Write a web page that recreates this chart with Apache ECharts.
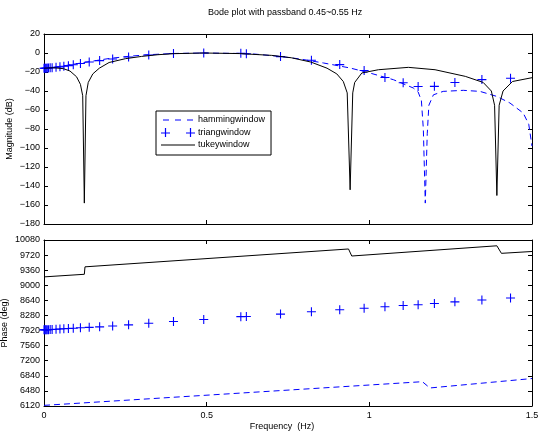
<!DOCTYPE html>
<html>
<head>
<meta charset="utf-8">
<script src="https://cdn.jsdelivr.net/npm/echarts@6/dist/echarts.min.js"></script>
<style>
  html, body { margin: 0; padding: 0; background: #fff; }
  #main { width: 540px; height: 438px; }
</style>
</head>
<body>
<div id="main"></div>
<script>
// hamming window (dashed)
const hammingMagFreq = [0, 0.03, 0.06, 0.1, 0.15, 0.2, 0.26, 0.32, 0.4, 0.49, 0.6, 0.65, 0.725, 0.787, 0.859, 0.941, 1.002, 1.074, 1.135, 1.15, 1.16, 1.166, 1.172, 1.178, 1.183, 1.197, 1.227, 1.289, 1.34, 1.392, 1.432, 1.473, 1.49, 1.5]
const hammingMag = [-16, -15, -13.6, -11.3, -8.5, -5.8, -3.5, -1.8, -0.5, 0, -0.5, -1.2, -3.6, -6.3, -10.5, -15.8, -21.1, -28.1, -36.8, -41, -50, -80, -158, -85, -55, -44, -40.4, -39.3, -40.4, -45.7, -52.6, -63.2, -75, -98]
const hammingPhaseFreq = [0, 1.163, 1.186, 1.5]
const hammingPhase = [6135, 6700, 6550, 6775]

// triang window (+ markers)
const triangFreq = [0, 0.002, 0.004, 0.007, 0.010, 0.014, 0.019, 0.025, 0.037, 0.049, 0.061, 0.075, 0.090, 0.112, 0.139, 0.171, 0.211, 0.260, 0.322, 0.398, 0.491, 0.605, 0.622, 0.727, 0.822, 0.909, 0.984, 1.048, 1.104, 1.150, 1.200, 1.263, 1.346, 1.434]
const triangMag = [-16, -16, -16, -16, -15.9, -15.8, -15.6, -15.4, -15, -14.6, -14, -13.3, -12.4, -11, -9.5, -8, -6.3, -4.2, -2.1, -0.5, 0, -0.3, -0.7, -3.8, -7.6, -12.2, -18.4, -25.8, -31.4, -35.3, -35.1, -31, -28, -26.5]
const triangPhase = [7936, 7937, 7938, 7939, 7940, 7941, 7943, 7945, 7950, 7955, 7962, 7968, 7976, 7986, 7996, 8008, 8028, 8056, 8094, 8136, 8184, 8252, 8256, 8312, 8368, 8416, 8452, 8488, 8516, 8536, 8567, 8604, 8648, 8695]

// tukey window (solid)
const tukeyMagFreq = [0, 0.03, 0.06, 0.08, 0.1, 0.112, 0.119, 0.124, 0.129, 0.136, 0.15, 0.17, 0.2, 0.25, 0.3, 0.35, 0.4, 0.49, 0.6, 0.7, 0.76, 0.82, 0.87, 0.9, 0.92, 0.932, 0.941, 0.949, 0.955, 0.977, 1.028, 1.12, 1.202, 1.295, 1.35, 1.375, 1.385, 1.392, 1.399, 1.411, 1.44, 1.5]
const tukeyMag = [-16, -15.5, -16.5, -19, -25, -33, -45, -158, -45, -31, -22, -16, -10, -6, -3.6, -1.8, -0.7, 0, -0.6, -2.5, -5, -9.5, -16, -22, -30, -42, -144, -42, -31, -21, -17.6, -15.1, -17.6, -24.6, -31, -40, -55, -150, -55, -40, -30, -26]
const tukeyPhaseFreq = [0, 0.124, 0.126, 0.936, 0.946, 1.392, 1.406, 1.5]
const tukeyPhase = [9200, 9262, 9440, 9866, 9698, 9942, 9762, 9806]

const magTicks = {min: -180, max: 20, interval: 20}
const phaseTicks = {min: 6120, max: 10080, interval: 360}
const freqTicks = {min: 0, max: 1.5, interval: 0.5}

const zip = (xs, ys) => xs.map((x, i) => [x, ys[i]])

const font = '"Liberation Sans", Arial, Helvetica, sans-serif'
const blue = '#0000ff'
const plus = 'path://M0,4.4H10V5.6H0Z M4.4,0H5.6V10H4.4Z'
// legend icons: dashed line, "+   +", solid line
const dashIcon = 'path://M0,4.5H6V5.5H0Z M12,4.5H18V5.5H12Z M24,4.5H30V5.5H24Z M0,0H0.01V0.01H0Z M0,9.99H0.01V10H0Z'
const plusPair = 'path://M0,4.4H9V5.6H0Z M3.9,0H5.1V9H3.9Z M25,4.4H34V5.6H25Z M28.9,0H30.1V9H28.9Z'
const solidIcon = 'path://M0,4.5H34V5.5H0Z M0,0H0.01V0.01H0Z M0,9.99H0.01V10H0Z'

const axisLine = {show: true, onZero: false, lineStyle: {color: '#000', width: 1}}
const axisTick = {show: true, inside: true, length: 4, lineStyle: {color: '#000', width: 1}}

function xAx(gridIndex, position, labels, name) {
  return {
    type: 'value', gridIndex, position, ...freqTicks,
    axisLine, axisTick,
    splitLine: {show: false},
    axisLabel: {show: labels, color: '#000', fontSize: 9, fontFamily: font, margin: 5},
    name: name || '', nameLocation: 'middle', nameGap: 16,
    nameTextStyle: {color: '#000', fontSize: 9, fontFamily: font, padding: [0, 12, 0, 0]}
  }
}

function yAx(gridIndex, position, ticks, labels, name, gap) {
  return {
    type: 'value', gridIndex, position, ...ticks,
    axisLine, axisTick,
    splitLine: {show: false},
    axisLabel: {show: labels, color: '#000', fontSize: 9, fontFamily: font, margin: 4,
      formatter: v => String(v).replace('-', '\u2212')},
    name: name || '', nameLocation: 'middle', nameGap: gap || 30,
    nameMoveOverlap: false,
    nameTextStyle: {color: '#000', fontSize: 9, fontFamily: font}
  }
}

const chart = echarts.init(document.getElementById('main'))
chart.setOption({
  animation: false,
  backgroundColor: '#fff',
  title: {
    text: 'Bode plot with passband 0.45~0.55 Hz',
    left: 203, top: 3,
    textStyle: {color: '#000', fontSize: 9, fontWeight: 'normal', fontFamily: font}
  },
  legend: {
    orient: 'vertical',
    left: 156, top: 111,
    padding: [4, 6, 5, 5],
    itemGap: 3,
    itemWidth: 34, itemHeight: 10,
    backgroundColor: '#fff',
    borderColor: '#000', borderWidth: 1, borderRadius: 0,
    textStyle: {color: '#000', fontSize: 9, fontFamily: font, padding: [0, 0, 0, -2]},
    data: [
      {name: 'hammingwindow', icon: dashIcon},
      {name: 'triangwindow', icon: plusPair},
      {name: 'tukeywindow', icon: solidIcon}
    ]
  },
  grid: [
    {left: 44, top: 34, width: 488, height: 190, outerBoundsMode: 'none'},
    {left: 44, top: 240, width: 488, height: 166, outerBoundsMode: 'none'}
  ],
  xAxis: [
    xAx(0, 'bottom', false),
    xAx(0, 'top', false),
    xAx(1, 'bottom', true, 'Frequency  (Hz)'),
    xAx(1, 'top', false)
  ],
  yAxis: [
    yAx(0, 'left', magTicks, true, 'Magnitude (dB)', 30),
    yAx(0, 'right', magTicks, false),
    yAx(1, 'left', phaseTicks, true, 'Phase (deg)', 35),
    yAx(1, 'right', phaseTicks, false)
  ],
  series: [
    {
      name: 'hammingwindow', type: 'line', xAxisIndex: 0, yAxisIndex: 0,
      data: zip(hammingMagFreq, hammingMag), symbol: 'none',
      lineStyle: {color: blue, width: 1, type: [6, 4]}, itemStyle: {color: blue}
    },
    {
      name: 'triangwindow', type: 'scatter', xAxisIndex: 0, yAxisIndex: 0,
      data: zip(triangFreq, triangMag), symbol: plus, symbolSize: 9,
      itemStyle: {color: blue, opacity: 1}
    },
    {
      name: 'tukeywindow', type: 'line', xAxisIndex: 0, yAxisIndex: 0,
      data: zip(tukeyMagFreq, tukeyMag), symbol: 'none',
      lineStyle: {color: '#000', width: 1}, itemStyle: {color: '#000'}
    },
    {
      name: 'hammingwindow', type: 'line', xAxisIndex: 2, yAxisIndex: 2,
      data: zip(hammingPhaseFreq, hammingPhase), symbol: 'none',
      lineStyle: {color: blue, width: 1, type: [6, 4]}, itemStyle: {color: blue}
    },
    {
      name: 'triangwindow', type: 'scatter', xAxisIndex: 2, yAxisIndex: 2,
      data: zip(triangFreq, triangPhase), symbol: plus, symbolSize: 9,
      itemStyle: {color: blue, opacity: 1}
    },
    {
      name: 'tukeywindow', type: 'line', xAxisIndex: 2, yAxisIndex: 2,
      data: zip(tukeyPhaseFreq, tukeyPhase), symbol: 'none',
      lineStyle: {color: '#000', width: 1}, itemStyle: {color: '#000'}
    }
  ]
})
</script>
</body>
</html>
